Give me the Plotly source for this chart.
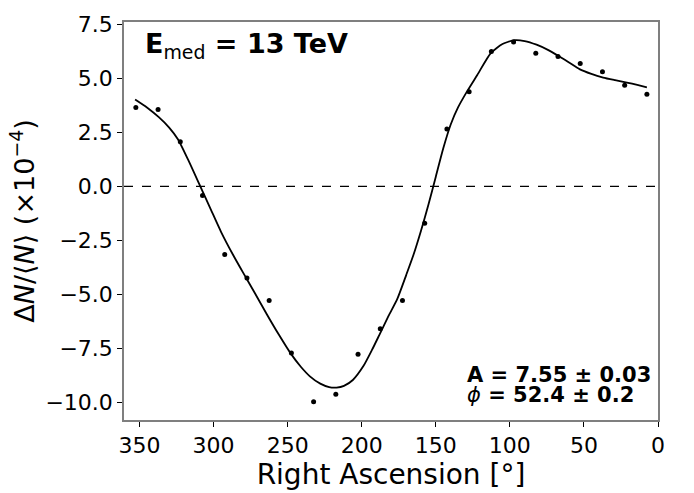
import plotly.graph_objects as go

# Data points (right ascension bins, relative intensity x1e-4)
ra_points = [352.5, 337.5, 322.5, 307.5, 292.5, 277.5, 262.5, 247.5, 232.5, 217.5,
             202.5, 187.5, 172.5, 157.5, 142.5, 127.5, 112.5, 97.5, 82.5, 67.5,
             52.5, 37.5, 22.5, 7.5]
dn_points = [3.65, 3.56, 2.06, -0.42, -3.15, -4.23, -5.27, -7.70, -9.96, -9.61,
             -7.76, -6.58, -5.27, -1.70, 2.65, 4.38, 6.24, 6.67, 6.16, 6.00,
             5.68, 5.30, 4.68, 4.26]

# Fitted curve
ra_curve = [353, 345, 337, 330, 324, 317, 309, 302, 295, 287, 280, 272, 264, 256,
            248, 241, 235, 228, 222, 217, 212, 206, 199, 193, 188, 182, 176, 170,
            165, 160, 155, 150, 145, 140, 135, 129, 122, 113, 105, 97, 90, 82, 74,
            66, 59, 53, 45, 37, 29, 21, 14, 7.5]
dn_curve = [4.02, 3.65, 3.2, 2.72, 2.17, 1.2, 0.0, -1.05, -2.1, -3.15, -4.0, -4.95,
            -5.92, -6.85, -7.72, -8.35, -8.78, -9.12, -9.28, -9.3, -9.22, -8.95, -8.32,
            -7.55, -6.85, -6.0, -5.2, -4.1, -3.15, -2.05, -0.85, 0.45, 1.75, 2.85, 3.65,
            4.38, 5.15, 6.15, 6.58, 6.76, 6.72, 6.55, 6.3, 5.98, 5.68, 5.42, 5.2, 5.03,
            4.91, 4.8, 4.69, 4.58]

x_ticks = [350, 300, 250, 200, 150, 100, 50, 0]
y_ticks = [-10.0, -7.5, -5.0, -2.5, 0.0, 2.5, 5.0, 7.5]

FONT = "DejaVu Sans"
SPINE = "#7f7f7f"

fig = go.Figure()
fig.add_hline(y=0, line=dict(color="black", width=1.4, dash="dash"))
fig.add_trace(go.Scatter(x=ra_curve, y=dn_curve, mode="lines",
                         line=dict(color="black", width=1.8, shape="spline", smoothing=0.6),
                         showlegend=False))
fig.add_trace(go.Scatter(x=ra_points, y=dn_points, mode="markers",
                         marker=dict(color="black", size=5), showlegend=False))

fig.update_layout(
    width=694, height=493,
    margin=dict(l=124, r=36, t=15, b=70),
    plot_bgcolor="white", paper_bgcolor="white",
    font=dict(family=FONT, color="black"),
    xaxis=dict(range=[360.5, 0], tickvals=x_ticks, ticks="outside", ticklen=5,
               tickwidth=1.2, tickcolor="black", showline=True, linecolor=SPINE,
               linewidth=1.5, mirror=True, showgrid=False, zeroline=False,
               tickfont=dict(size=22, family=FONT),
               title=dict(text="Right Ascension [°]", font=dict(size=28, family=FONT),
                          standoff=3)),
    yaxis=dict(range=[-10.8, 7.6], tickvals=y_ticks, tickformat=".1f", ticks="outside",
               ticklen=5, tickwidth=1.2, tickcolor="black", showline=True,
               linecolor=SPINE, linewidth=1.5, mirror=True, showgrid=False,
               zeroline=False, tickfont=dict(size=22, family=FONT),
               title=dict(text="Δ<i>N</i>/⟨<i>N</i>⟩ (×10<sup>−4</sup>)",
                          font=dict(size=27, family=FONT), standoff=3)),
    annotations=[
        dict(xref="paper", yref="paper", x=0.035, y=0.94, xanchor="left", yanchor="middle",
             text="<b>E</b><sub>med</sub><b> = 13 TeV</b>", showarrow=False,
             font=dict(size=27, family=FONT)),
        dict(xref="paper", yref="paper", x=0.638, y=0.113, xanchor="left", yanchor="middle",
             text="<b>A = 7.55 ± 0.03</b>", showarrow=False,
             font=dict(size=21, family=FONT)),
        dict(xref="paper", yref="paper", x=0.638, y=0.062, xanchor="left", yanchor="middle",
             text="<i>ϕ</i><b> = 52.4 ± 0.2</b>", showarrow=False,
             font=dict(size=21, family=FONT)),
    ],
)

fig.write_html("out.html")
